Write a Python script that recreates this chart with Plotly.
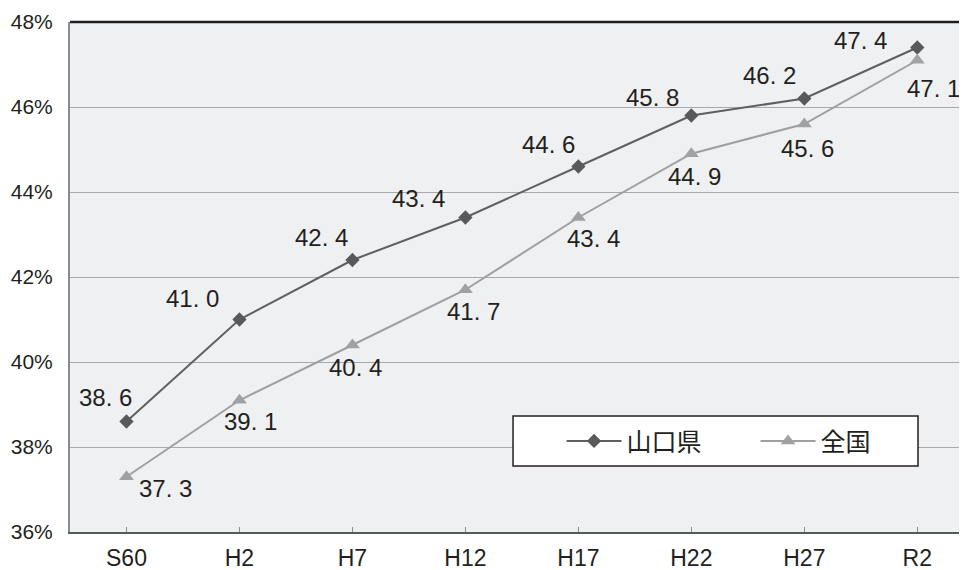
import plotly.graph_objects as go

# 調査年
years = ["S60", "H2", "H7", "H12", "H17", "H22", "H27", "R2"]
# 割合 (%)
yamaguchi = [38.6, 41.0, 42.4, 43.4, 44.6, 45.8, 46.2, 47.4]
national = [37.3, 39.1, 40.4, 41.7, 43.4, 44.9, 45.6, 47.1]
y_ticks = [36, 38, 40, 42, 44, 46, 48]
y_ticktext = [f"{v}%" for v in y_ticks]

# label offsets in px (dx, dy up)
yama_shift = [(-21, 24), (-47, 21), (-31, 23), (-47, 19), (-30, 22), (-39, 18), (-35, 23), (-57, 7)]
nat_shift = [(39, -12), (11, -21), (3, -22), (8, -22), (15, -21), (3, -23), (3, -24), (16, -28)]

DARK = "#5e5f61"
LIGHT = "#9e9fa1"
TEXT = "#231f20"
NARROW = "Liberation Sans, Arial, sans-serif"
JP = "Noto Sans CJK JP, sans-serif"


def fmt(v):
    return f"{v:.1f}".replace(".", ". ")


fig = go.Figure()
fig.add_trace(go.Scatter(
    x=years, y=yamaguchi, name="山口県", mode="lines+markers",
    line=dict(color=DARK, width=2),
    marker=dict(symbol="diamond", size=11, color="#58595b"),
))
fig.add_trace(go.Scatter(
    x=years, y=national, name="全国", mode="lines+markers",
    line=dict(color=LIGHT, width=2),
    marker=dict(symbol="triangle-up", size=13, color="#a0a1a3"),
))

annotations = []
for yr, v, (dx, dy) in zip(years, yamaguchi, yama_shift):
    annotations.append(dict(x=yr, y=v, text=fmt(v), showarrow=False,
                            xshift=dx, yshift=dy,
                            font=dict(family=NARROW, size=24, color=TEXT)))
for yr, v, (dx, dy) in zip(years, national, nat_shift):
    annotations.append(dict(x=yr, y=v, text=fmt(v), showarrow=False,
                            xshift=dx, yshift=dy,
                            font=dict(family=NARROW, size=24, color=TEXT)))

# the page body adds 8px on top/left, so the margins are shifted by that
fig.update_layout(
    width=967, height=570,
    margin=dict(l=62, r=8, t=14, b=46),
    paper_bgcolor="white",
    plot_bgcolor="#eff0f2",
    showlegend=True,
    legend=dict(
        orientation="h", x=0.548, xanchor="left", y=0.178, yanchor="middle",
        bgcolor="rgba(0,0,0,0)", borderwidth=0,
        font=dict(family=JP, size=25, color=TEXT),
        itemwidth=55, entrywidth=124, entrywidthmode="pixels",
    ),
    annotations=annotations,
    shapes=[
        dict(type="rect", xref="paper", yref="paper",
             x0=0.4939, x1=0.9454, y0=0.1294, y1=0.2275,
             line=dict(color="#231f20", width=1.5), fillcolor="white", layer="above"),
        dict(type="line", xref="paper", yref="paper", x0=0, x1=1, y0=1, y1=1,
             line=dict(color="#231f20", width=2.5), layer="above"),
    ],
)

fig.update_xaxes(
    type="category", range=[-0.5, 7.44], automargin=False,
    showline=True, linecolor="#58595b", linewidth=2,
    ticks="inside", ticklen=5, tickcolor="#8a8b8d", tickwidth=1,
    showgrid=False, ticklabelstandoff=4,
    tickfont=dict(family=NARROW, size=23, color=TEXT),
)
fig.update_yaxes(
    range=[36, 48], tickvals=y_ticks, ticktext=y_ticktext, automargin=False,
    showline=True, linecolor="#8a8b8d", linewidth=2,
    showgrid=True, gridcolor="#a7a9ac", gridwidth=1,
    zeroline=False, ticks="", ticklabelstandoff=11,
    tickfont=dict(family=NARROW, size=21, color=TEXT),
)

fig.write_html("out.html")
